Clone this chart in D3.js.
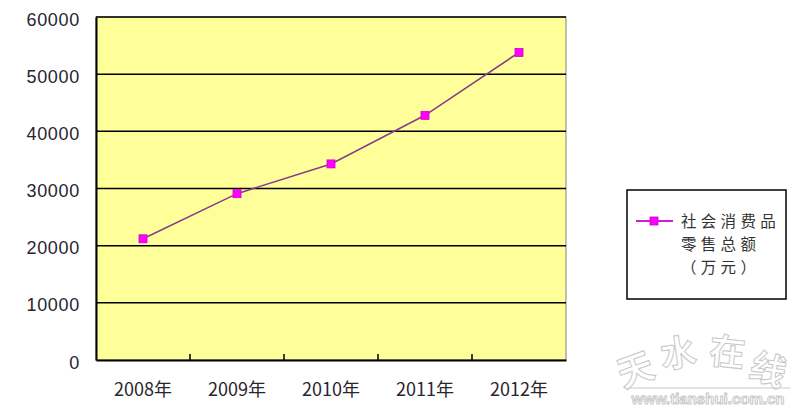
<!DOCTYPE html>
<html>
<head>
<meta charset="utf-8">
<script src="https://cdn.jsdelivr.net/npm/d3@7/dist/d3.min.js"></script>
<style>
html,body{margin:0;padding:0;background:#fff;}
svg{display:block;}
</style>
</head>
<body>
<svg id="chart" width="800" height="410"></svg>
<script>
const categories = ["2008年", "2009年", "2010年", "2011年", "2012年"];
const values = [21200, 29100, 34300, 42800, 53800];
const yTicks = [0, 10000, 20000, 30000, 40000, 50000, 60000];
const legendLines = ["社会消费品", "零售总额", "（万元）"];

const svg = d3.select("#chart");
const m = {left: 96, right: 566, top: 17, bottom: 360};

const x = d3.scaleBand().domain(categories).range([m.left, m.right]);
const y = d3.scaleLinear().domain([0, 60000]).range([m.bottom, m.top]);

// plot background
svg.append("rect")
  .attr("x", m.left).attr("y", m.top)
  .attr("width", m.right - m.left).attr("height", m.bottom - m.top)
  .attr("fill", "#FFFF99")
  .attr("stroke", "#808080").attr("stroke-width", 1);

// gridlines
svg.append("g").selectAll("line").data(yTicks.filter(d => d > 0)).join("line")
  .attr("x1", m.left).attr("x2", m.right)
  .attr("y1", d => y(d)).attr("y2", d => y(d))
  .attr("stroke", "#000").attr("stroke-width", 1.5);

// y axis
const yAxis = svg.append("g")
  .attr("transform", `translate(${m.left},0)`)
  .call(d3.axisLeft(y).tickValues(yTicks).tickSize(0).tickPadding(16).tickFormat(d3.format("d")));
yAxis.select(".domain").attr("stroke", "#000").attr("stroke-width", 2);
yAxis.selectAll("text")
  .attr("font-family", "'Liberation Sans', Arial, sans-serif")
  .attr("font-size", 18).attr("fill", "#2a2430")
  .attr("letter-spacing", 0.7)
  .attr("dy", "0.45em");

// x axis
const xAxis = svg.append("g")
  .attr("transform", `translate(0,${m.bottom})`)
  .call(d3.axisBottom(x).tickSize(0).tickPadding(23));
xAxis.select(".domain").attr("stroke", "#000").attr("stroke-width", 2);
xAxis.selectAll("text")
  .attr("font-family", "'Noto Sans CJK SC', sans-serif")
  .attr("font-size", 18).attr("fill", "#2a2430");
// category boundary ticks (pointing up inside plot)
svg.append("g").selectAll("line").data(categories.slice(1)).join("line")
  .attr("x1", d => x(d)).attr("x2", d => x(d))
  .attr("y1", m.bottom).attr("y2", m.bottom - 6)
  .attr("stroke", "#000").attr("stroke-width", 1.5);

// line
const line = d3.line()
  .x((d, i) => x(categories[i]) + x.bandwidth() / 2)
  .y(d => y(d));
svg.append("path").datum(values)
  .attr("d", line)
  .attr("fill", "none").attr("stroke", "#8a3d8a").attr("stroke-width", 1.6);

svg.append("g").selectAll("rect").data(values).join("rect")
  .attr("x", (d, i) => x(categories[i]) + x.bandwidth() / 2 - 4)
  .attr("y", d => y(d) - 4)
  .attr("width", 8).attr("height", 8)
  .attr("fill", "#FF00FF").attr("stroke", "#cc00cc").attr("stroke-width", 0.8);

// legend
const lg = svg.append("g");
lg.append("rect").attr("x", 627).attr("y", 190).attr("width", 159).attr("height", 109)
  .attr("fill", "#fff").attr("stroke", "#000").attr("stroke-width", 1.5);
lg.append("line").attr("x1", 636).attr("x2", 673).attr("y1", 221).attr("y2", 221)
  .attr("stroke", "#cc22cc").attr("stroke-width", 1.8);
lg.append("rect").attr("x", 650).attr("y", 217).attr("width", 8).attr("height", 8)
  .attr("fill", "#FF00FF").attr("stroke", "#cc00cc").attr("stroke-width", 0.8);
lg.selectAll("text").data(legendLines).join("text")
  .attr("x", 681).attr("y", (d, i) => 227 + i * 23)
  .attr("font-family", "'Noto Sans CJK SC', sans-serif")
  .attr("font-size", 15.5).attr("letter-spacing", 4.3)
  .attr("fill", "#333")
  .text(d => d);

// watermark
const wm = svg.append("g").attr("fill", "#fff").attr("stroke", "#c8c8c8").attr("stroke-width", 1)
  .attr("font-family", "'Noto Sans CJK SC', sans-serif").attr("font-weight", "bold");
const wmChars = [["天", 640, 382, -20], ["水", 680, 366, -8], ["在", 726, 365, 6], ["线", 764, 382, 18]];
wm.selectAll("text.c").data(wmChars).join("text").attr("class", "c")
  .attr("text-anchor", "middle")
  .attr("font-size", 36)
  .attr("transform", d => `translate(${d[1]},${d[2]}) rotate(${d[3]})`)
  .text(d => d[0]);
wm.append("line").attr("x1", 628).attr("x2", 790).attr("y1", 388).attr("y2", 388).attr("stroke", "#c8c8c8");
wm.append("text").attr("x", 708).attr("y", 404).attr("text-anchor", "middle")
  .attr("font-family", "'Liberation Sans', Arial, sans-serif").attr("font-size", 15)
  .text("www.tianshui.com.cn");
</script>
</body>
</html>
